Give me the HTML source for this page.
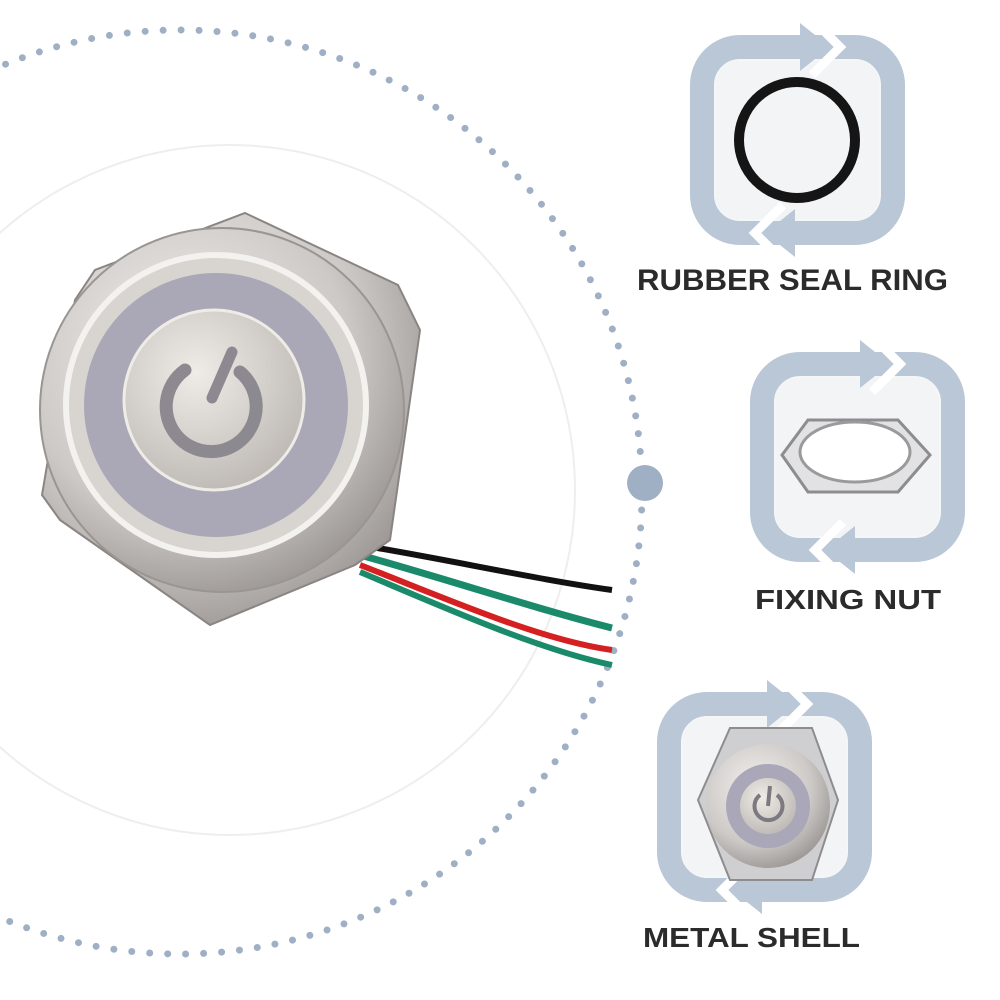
<!DOCTYPE html>
<html><head><meta charset="utf-8"><style>
html,body{margin:0;padding:0;background:#fff}
svg{display:block}
text{font-family:"Liberation Sans",sans-serif;font-weight:bold;fill:#2b2b2b}
</style></head><body>
<svg width="1000" height="1000" viewBox="0 0 1000 1000" xmlns="http://www.w3.org/2000/svg">
<defs>
<radialGradient id="metal" cx="40%" cy="35%" r="75%">
<stop offset="0" stop-color="#f2f0ee"/><stop offset="0.6" stop-color="#cdc9c6"/><stop offset="1" stop-color="#8f8a87"/></radialGradient>
<radialGradient id="cap" cx="40%" cy="35%" r="70%">
<stop offset="0" stop-color="#efece8"/><stop offset="1" stop-color="#bdb8b3"/></radialGradient>
<g id="frame">
<rect x="12" y="12" width="191" height="186" rx="38" fill="#f5f6f8" stroke="#b9c7d7" stroke-width="24"/>
<rect x="26" y="26" width="163" height="158" rx="22" fill="#f3f4f6"/>
<polyline points="122,-16 150,12 122,40" fill="none" stroke="#fff" stroke-width="9"/>
<polygon points="110,-12 140,12 110,36" fill="#b9c7d7"/>
<polyline points="93,170 65,198 93,226" fill="none" stroke="#fff" stroke-width="9"/>
<polygon points="105,174 75,198 105,222" fill="#b9c7d7"/>
</g>
</defs>
<circle cx="230" cy="490" r="345" fill="none" stroke="#eeeeee" stroke-width="2"/>
<circle cx="180" cy="492" r="462" fill="none" stroke="#9fb0c4" stroke-width="7" stroke-linecap="round" stroke-dasharray="0 18"/>
<circle cx="645" cy="483" r="18" fill="#9fb0c4"/>
<!-- wires -->
<path d="M360 545 C450 560 540 580 612 590" stroke="#111" stroke-width="6" fill="none"/>
<path d="M360 555 C450 580 540 610 612 628" stroke="#1a8a6a" stroke-width="7" fill="none"/>
<path d="M360 565 C450 600 540 640 612 650" stroke="#d42020" stroke-width="6" fill="none"/>
<path d="M360 572 C450 610 540 650 612 665" stroke="#1a8a6a" stroke-width="6" fill="none"/>
<!-- hex nut -->
<polygon points="245,213 398,285 420,330 390,540 355,565 210,625 60,520 42,495 75,300 95,270" fill="url(#metal)" stroke="#8a8582" stroke-width="2"/>
<circle cx="222" cy="410" r="182" fill="url(#metal)" stroke="#9a9590" stroke-width="2"/>
<circle cx="216" cy="405" r="150" fill="#d8d4d0" stroke="#f4f2ef" stroke-width="6"/>
<circle cx="216" cy="405" r="132" fill="#aaa8b6"/>
<circle cx="214" cy="400" r="90" fill="url(#cap)" stroke="#efece8" stroke-width="3"/>
<path d="M185 370 A45 45 0 1 0 240 372" fill="none" stroke="#8c8a90" stroke-width="13" stroke-linecap="round"/>
<line x1="232" y1="352" x2="212" y2="398" stroke="#8c8a90" stroke-width="11" stroke-linecap="round"/>
<!-- icon 1 -->
<use href="#frame" x="690" y="35"/>
<circle cx="797" cy="140" r="58" fill="none" stroke="#151515" stroke-width="10"/>
<text x="637" y="290" font-size="30" textLength="311" lengthAdjust="spacingAndGlyphs">RUBBER SEAL RING</text>
<!-- icon 2 -->
<use href="#frame" x="750" y="352"/>
<polygon points="782,455 808,420 898,420 930,455 898,492 808,492" fill="#e2e2e4" stroke="#8d8d90" stroke-width="3"/>
<ellipse cx="855" cy="452" rx="55" ry="30" fill="#fff" stroke="#9a9a9c" stroke-width="3"/>
<text x="755" y="609" font-size="28" textLength="186" lengthAdjust="spacingAndGlyphs">FIXING NUT</text>
<!-- icon 3 -->
<use href="#frame" x="657" y="692"/>
<polygon points="730,728 812,728 838,800 812,880 730,880 698,800" fill="#cfcfd1" stroke="#8d8d90" stroke-width="2"/>
<circle cx="768" cy="806" r="62" fill="url(#metal)"/>
<circle cx="768" cy="806" r="42" fill="#a9a7b8"/>
<circle cx="768" cy="806" r="28" fill="url(#cap)"/>
<path d="M760 795 A14 14 0 1 0 777 795" fill="none" stroke="#7c7a80" stroke-width="4"/>
<line x1="770" y1="786" x2="768" y2="806" stroke="#7c7a80" stroke-width="4"/>
<text x="643" y="947" font-size="28" textLength="217" lengthAdjust="spacingAndGlyphs">METAL SHELL</text>
</svg>
</body></html>
